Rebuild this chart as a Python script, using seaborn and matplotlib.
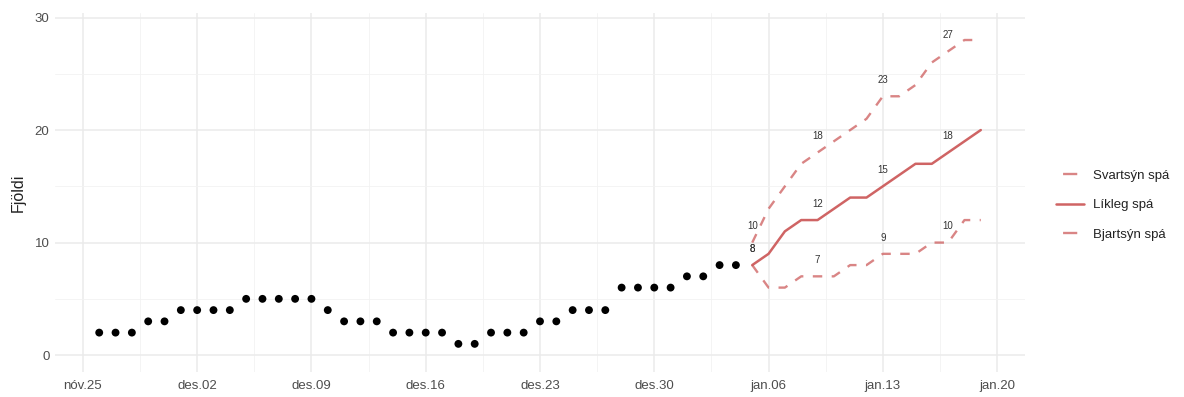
import numpy as np
import pandas as pd
import matplotlib
matplotlib.use("Agg")
import matplotlib.pyplot as plt
from matplotlib.lines import Line2D
import seaborn as sns

# ---- data ----
obs_start = "2020-11-26"
obs_values = [2, 2, 2, 3, 3, 4, 4, 4, 4, 5, 5, 5, 5, 5, 4, 3, 3, 3, 2, 2,
              2, 2, 1, 1, 2, 2, 2, 3, 3, 4, 4, 4, 6, 6, 6, 6, 7, 7, 8, 8]

fc_start = "2021-01-05"
svartsyn = [10, 13, 15, 17, 18, 19, 20, 21, 23, 23, 24, 26, 27, 28, 28]
likleg   = [8, 9, 11, 12, 12, 13, 14, 14, 15, 16, 17, 17, 18, 19, 20]
bjartsyn = [8, 6, 6, 7, 7, 7, 8, 8, 9, 9, 9, 10, 10, 12, 12]
series_names = ["Svartsýn spá", "Líkleg spá", "Bjartsýn spá"]

label_dates = ["2021-01-05", "2021-01-09", "2021-01-13", "2021-01-17"]

tick_dates = ["2020-11-25", "2020-12-02", "2020-12-09", "2020-12-16", "2020-12-23",
              "2020-12-30", "2021-01-06", "2021-01-13", "2021-01-20"]
tick_labels = ["nóv.25", "des.02", "des.09", "des.16", "des.23",
               "des.30", "jan.06", "jan.13", "jan.20"]
y_ticks = [0, 10, 20, 30]

# ---- frames ----
obs = pd.DataFrame({"date": pd.date_range(obs_start, periods=len(obs_values), freq="D"),
                    "value": obs_values})
fc_dates = pd.date_range(fc_start, periods=len(likleg), freq="D")
fc = pd.concat([
    pd.DataFrame({"date": fc_dates, "value": vals, "series": name})
    for name, vals in zip(series_names, [svartsyn, likleg, bjartsyn])
], ignore_index=True)

# ---- style ----
sns.set_theme(style="whitegrid")
plt.rcParams["font.family"] = ["Liberation Sans", "DejaVu Sans"]

fig = plt.figure(figsize=(11.84, 3.97), dpi=100)
ax = fig.add_axes([55 / 1184, 1 - 372 / 397, (1025 - 55) / 1184, (372 - 13) / 397])

sns.scatterplot(data=obs, x="date", y="value", color="black", s=32,
                edgecolor="none", ax=ax, zorder=3, legend=False)

red = "#cd5c5c"
styles = {
    "Svartsýn spá": dict(alpha=0.75, linestyle=(0, (4, 4)), lw=1.7),
    "Líkleg spá": dict(alpha=0.95, linestyle="-", lw=1.8),
    "Bjartsýn spá": dict(alpha=0.75, linestyle=(0, (4, 4)), lw=1.7),
}
for name in series_names:
    sub = fc[fc["series"] == name]
    st = styles[name]
    sns.lineplot(data=sub, x="date", y="value", ax=ax, color=red,
                 alpha=st["alpha"], linestyle=st["linestyle"], linewidth=st["lw"],
                 legend=False, zorder=2)

# value labels
for name in series_names:
    sub = fc[fc["series"] == name].set_index("date")
    for d in label_dates:
        v = sub.loc[pd.Timestamp(d), "value"]
        ax.text(pd.Timestamp(d), v + 1.45, f"{v}", ha="center", va="center",
                fontsize=7, color="#333333")

# axes
ax.set_xlim(pd.Timestamp("2020-11-23") + pd.Timedelta(hours=7),
            pd.Timestamp("2021-01-21") + pd.Timedelta(hours=17))
ax.set_ylim(-1.5, 30.4)
ax.set_xticks(pd.to_datetime(tick_dates))
ax.set_xticklabels(tick_labels)
ax.set_yticks(y_ticks)
minor_x = pd.to_datetime(tick_dates) + pd.Timedelta(days=3, hours=12)
ax.set_xticks(minor_x[:-1], minor=True)
ax.set_yticks([5, 15, 25], minor=True)
ax.grid(which="major", color="#ebebeb", linewidth=1.1)
ax.grid(which="minor", color="#f2f2f2", linewidth=0.6)
for s in ax.spines.values():
    s.set_visible(False)
ax.tick_params(axis="both", which="both", length=0, labelsize=9.5,
               labelcolor="#4d4d4d", pad=4)
ax.tick_params(axis="x", pad=6)
ax.set_xlabel("")
ax.set_ylabel("Fjöldi", fontsize=11.5, color="#222222", labelpad=6)

# legend: one short dash for dashed keys, like ggplot keys
handles = [
    Line2D([], [], color=red, alpha=0.75, lw=1.7, linestyle=(9, (6, 6))),
    Line2D([], [], color=red, alpha=0.95, lw=1.8, linestyle="-"),
    Line2D([], [], color=red, alpha=0.75, lw=1.7, linestyle=(9, (6, 6))),
]
leg = ax.legend(handles, series_names, loc="center left",
                bbox_to_anchor=(1.02, 0.465), frameon=False,
                fontsize=9.5, handlelength=2.1, labelspacing=1.3, handletextpad=0.7)
for t in leg.get_texts():
    t.set_color("#222222")

fig.savefig("out.png", dpi=100)
